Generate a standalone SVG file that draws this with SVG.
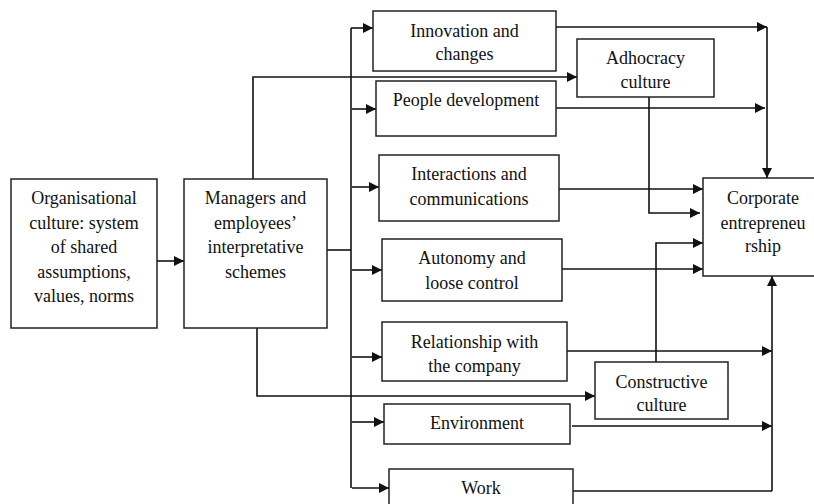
<svg xmlns="http://www.w3.org/2000/svg" width="814" height="504" viewBox="0 0 814 504">
<style>
.box{fill:#fff;stroke:#222;stroke-width:1.5}
.t{font-family:"Liberation Serif","Times New Roman",serif;font-size:18px;fill:#111;text-anchor:middle}
.c{fill:none;stroke:#111;stroke-width:1.6}
</style>
<defs>
<marker id="ah" markerUnits="userSpaceOnUse" markerWidth="11" markerHeight="10" refX="10" refY="5" orient="auto">
<path d="M0,0 L10,5 L0,10 z" fill="#111"/>
</marker>
</defs>
<rect width="814" height="504" fill="#fff"/>
<g id="connectors">
<path class="c" d="M157,261 H184" marker-end="url(#ah)"/>
<path class="c" d="M327,250 H351"/>
<path class="c" d="M351,28 V488"/>
<path class="c" d="M351,28 H373" marker-end="url(#ah)"/>
<path class="c" d="M352,109 H376" marker-end="url(#ah)"/>
<path class="c" d="M352,187 H379" marker-end="url(#ah)"/>
<path class="c" d="M352,270 H382" marker-end="url(#ah)"/>
<path class="c" d="M352,357 H382" marker-end="url(#ah)"/>
<path class="c" d="M352,422 H384" marker-end="url(#ah)"/>
<path class="c" d="M352,488 H389" marker-end="url(#ah)"/>
<path class="c" d="M253,179 V77 H577" marker-end="url(#ah)"/>
<path class="c" d="M257,328 V396 H595" marker-end="url(#ah)"/>
<path class="c" d="M556,27 H767" marker-end="url(#ah)"/>
<path class="c" d="M767,27 V178" marker-end="url(#ah)"/>
<path class="c" d="M556,108 H765" marker-end="url(#ah)"/>
<path class="c" d="M649,97 V213 H700" marker-end="url(#ah)"/>
<path class="c" d="M559,189 H703" marker-end="url(#ah)"/>
<path class="c" d="M656,362 V243 H703" marker-end="url(#ah)"/>
<path class="c" d="M562,269 H703" marker-end="url(#ah)"/>
<path class="c" d="M567,351 H772" marker-end="url(#ah)"/>
<path class="c" d="M572,426 H772" marker-end="url(#ah)"/>
<path class="c" d="M573,491 H772"/>
<path class="c" d="M772,491 V276" marker-end="url(#ah)"/>
</g>
<g id="org">
<rect class="box" x="11" y="179" width="146" height="149"/>
<text class="t" x="84" y="204">Organisational</text>
<text class="t" x="84" y="229">culture: system</text>
<text class="t" x="84" y="253">of shared</text>
<text class="t" x="84" y="278">assumptions,</text>
<text class="t" x="84" y="302">values, norms</text>
</g>
<g id="managers">
<rect class="box" x="184" y="179" width="143" height="149"/>
<text class="t" x="255.5" y="204">Managers and</text>
<text class="t" x="255.5" y="229">employees’</text>
<text class="t" x="255.5" y="253">interpretative</text>
<text class="t" x="255.5" y="278">schemes</text>
</g>
<g id="innovation">
<rect class="box" x="373" y="11" width="183" height="60"/>
<text class="t" x="464.5" y="37">Innovation and</text>
<text class="t" x="464.5" y="60">changes</text>
</g>
<g id="adhocracy">
<rect class="box" x="577" y="39" width="137" height="58"/>
<text class="t" x="645.5" y="64">Adhocracy</text>
<text class="t" x="645.5" y="88">culture</text>
</g>
<g id="people">
<rect class="box" x="376" y="81" width="180" height="55"/>
<text class="t" x="466" y="106">People development</text>
</g>
<g id="interactions">
<rect class="box" x="379" y="155" width="180" height="66"/>
<text class="t" x="469" y="180">Interactions and</text>
<text class="t" x="469" y="205">communications</text>
</g>
<g id="corporate">
<rect class="box" x="703" y="178" width="115" height="98"/>
<text class="t" x="763" y="204">Corporate</text>
<text class="t" x="763" y="229">entrepreneu</text>
<text class="t" x="763" y="252">rship</text>
</g>
<g id="autonomy">
<rect class="box" x="382" y="239" width="180" height="62"/>
<text class="t" x="472" y="264">Autonomy and</text>
<text class="t" x="472" y="289">loose control</text>
</g>
<g id="relationship">
<rect class="box" x="382" y="322" width="185" height="59"/>
<text class="t" x="474.5" y="348">Relationship with</text>
<text class="t" x="474.5" y="372">the company</text>
</g>
<g id="constructive">
<rect class="box" x="595" y="362" width="133" height="57"/>
<text class="t" x="661.5" y="388">Constructive</text>
<text class="t" x="661.5" y="411">culture</text>
</g>
<g id="environment">
<rect class="box" x="384" y="404" width="186" height="40"/>
<text class="t" x="477" y="429">Environment</text>
</g>
<g id="work">
<rect class="box" x="389" y="469" width="184" height="45"/>
<text class="t" x="481" y="494">Work</text>
</g>
</svg>
